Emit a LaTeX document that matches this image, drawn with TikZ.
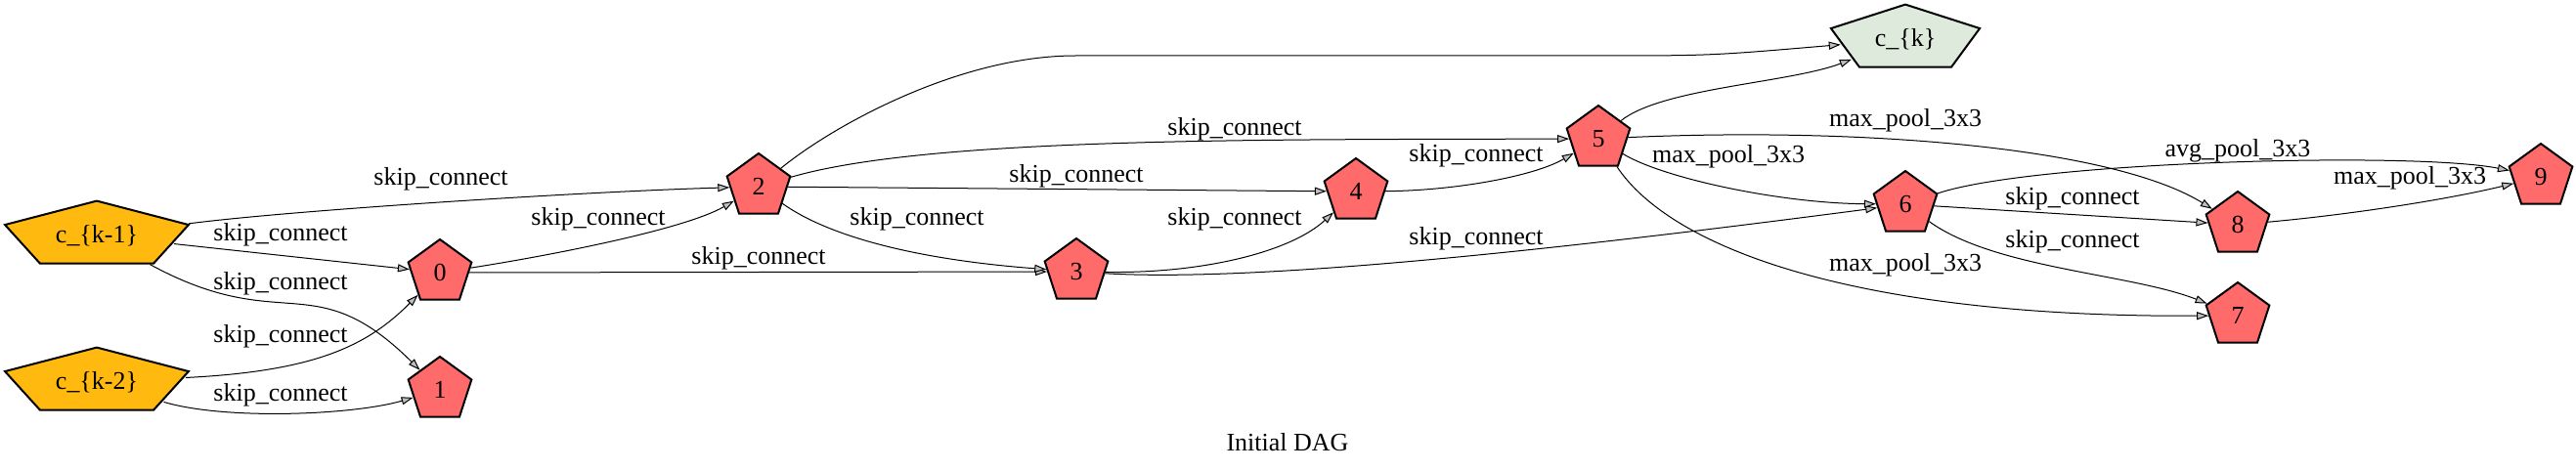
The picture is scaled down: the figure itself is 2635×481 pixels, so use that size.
\documentclass[tikz,border=0pt]{standalone}
\usepackage{fontspec}
\setmainfont{Liberation Serif}
\usepackage{graphicx}
\usetikzlibrary{shapes.geometric, arrows.meta}
\definecolor{opred}{RGB}{255,106,106}
\definecolor{cellin}{RGB}{255,185,15}
\definecolor{cellout}{RGB}{222,235,220}

\begin{document}
\begin{tikzpicture}[x=0.5pt, y=0.5pt,
  every node/.style={font=\fontsize{13}{15}\selectfont},
  op/.style={regular polygon, regular polygon sides=5, draw, line width=1pt, fill=opred, inner sep=0pt, minimum size=34pt},
  cell/.style={regular polygon, regular polygon sides=5, draw, line width=1pt, inner sep=0pt, minimum size=35.4pt, transform shape},
  conn/.style={-{Triangle[length=6pt, width=4pt, fill=gray!50]}, line width=0.5pt}]
\useasboundingbox (0,0) rectangle (2635,-481);

\node[cell, fill=cellin, xscale=2.79] (ck1) at (99,-241) {\scalebox{0.358}[1]{c\_\{k-1\}}};
\node[cell, fill=cellin, xscale=2.79] (ck2) at (99,-391) {\scalebox{0.358}[1]{c\_\{k-2\}}};
\node[cell, fill=cellout, xscale=2.26] (ck) at (1949,-40) {\scalebox{0.442}[1]{c\_\{k\}}};

\foreach \n/\x/\y in {0/450/279, 1/450/399, 2/776/191, 3/1101/278, 4/1387/196,
                      5/1635/142, 6/1949/209, 7/2289/323, 8/2289/230, 9/2599/181}
   \node[op] (n\n) at (\x,-\y) {\n};

\draw[conn] (ck1) -- (n0);
\draw[conn] (ck1) .. controls (290,-345) and (320,-270) .. (n1);
\draw[conn] (ck2) .. controls (320,-380) and (375,-355) .. (n0);
\draw[conn] (ck2) .. controls (230,-430) and (360,-425) .. (n1);
\draw[conn] (ck1) .. controls (300,-215) and (600,-196) .. (n2);
\draw[conn] (n0) .. controls (560,-262) and (700,-235) .. (n2);
\draw[conn] (n0) -- (n3);
\draw[conn] (n2) .. controls (845,-240) and (930,-265) .. (n3);
\draw[conn] (n2) -- (n4);
\draw[conn] (n2) .. controls (950,-140) and (1300,-143) .. (n5);
\draw[conn] (n2) .. controls (850,-130) and (980,-57) .. (1100,-57) -- (1630,-57) .. controls (1750,-57) .. (ck);
\draw[conn] (n3) .. controls (1230,-280) and (1320,-258) .. (n4);
\draw[conn] (n3) .. controls (1300,-290) and (1650,-248) .. (n6);
\draw[conn] (n4) .. controls (1490,-195) and (1570,-180) .. (n5);
\draw[conn] (n5) .. controls (1700,-90) and (1830,-85) .. (ck);
\draw[conn] (n5) .. controls (1900,-130) and (2160,-150) .. (n8);
\draw[conn] (n5) .. controls (1700,-182) and (1820,-208) .. (n6);
\draw[conn] (n5) .. controls (1710,-255) and (1900,-325) .. (n7);
\draw[conn] (n6) .. controls (2080,-165) and (2470,-155) .. (n9);
\draw[conn] (n6) -- (n8);
\draw[conn] (n6) .. controls (2040,-275) and (2180,-280) .. (n7);
\draw[conn] (n8) .. controls (2400,-220) and (2500,-205) .. (n9);

\foreach \x/\y/\t [count=\i] in {287/240/skip\_connect, 287/290/skip\_connect,
      287/344/skip\_connect, 287/404/skip\_connect, 451/183/skip\_connect,
      612/224/skip\_connect, 776/264/skip\_connect, 938/224/skip\_connect,
      1101/180/skip\_connect, 1263/132/skip\_connect, 1263/224/skip\_connect,
      1510/159/skip\_connect, 1510/244/skip\_connect, 1768/160/max\_pool\_3x3,
      1949/123/max\_pool\_3x3, 2289/154/avg\_pool\_3x3, 2465/182/max\_pool\_3x3,
      2120/203/skip\_connect, 2120/247/skip\_connect, 1949/271/max\_pool\_3x3}
   \node (lab\i) at (\x,-\y) {\t};

\node (title) at (1317,-453) {Initial DAG};
\end{tikzpicture}
\end{document}
